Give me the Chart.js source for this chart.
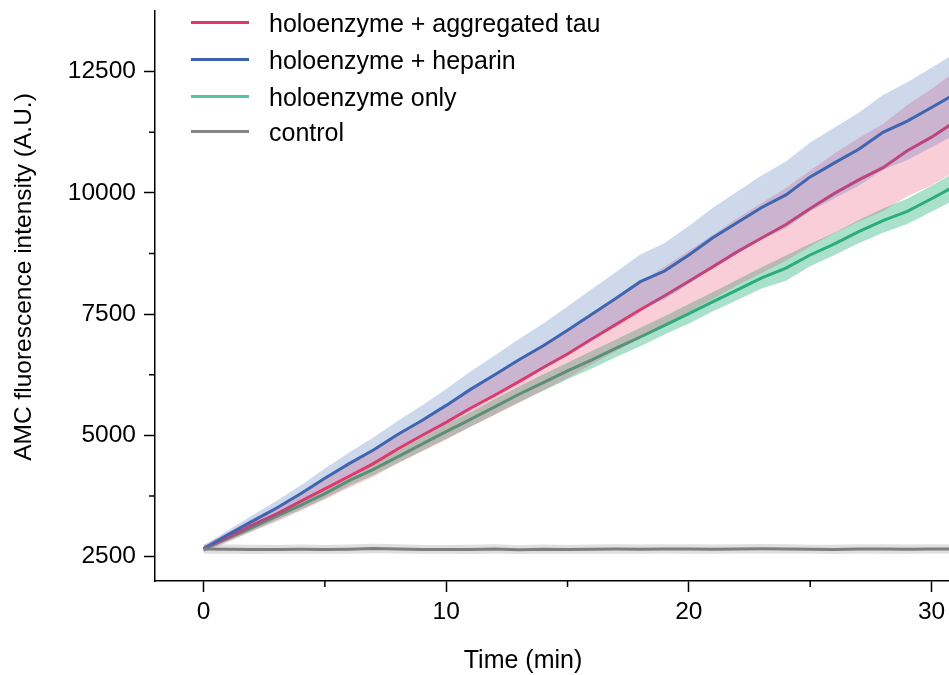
<!DOCTYPE html>
<html>
<head>
<meta charset="utf-8">
<title>AMC fluorescence</title>
<script src="https://cdn.jsdelivr.net/npm/chart.js@4.4.0/dist/chart.umd.min.js"></script>
<style>
  html, body { margin: 0; padding: 0; background: #fff; }
  #wrap { position: relative; width: 949px; height: 675px; overflow: hidden; }
  #legend { position: absolute; left: 191px; top: 0; font-family: "Liberation Sans", Arial, sans-serif; font-size: 25px; color: #000; }
  .item { position: absolute; left: 0; height: 0; white-space: nowrap; }
  .item .swatch { position: absolute; left: 0; top: -1.5px; width: 58px; height: 3px; }
  .item .label { position: absolute; left: 78px; top: 1px; transform: translateY(-50%); line-height: 1; }
</style>
</head>
<body>
<div id="wrap">
  <canvas id="chart" width="949" height="675"></canvas>
  <div id="legend"></div>
</div>
<script>
// time points (min)
const times = [0, 1, 2, 3, 4, 5, 6, 7, 8, 9, 10, 11, 12, 13, 14, 15, 16, 17, 18, 19, 20, 21, 22, 23, 24, 25, 26, 27, 28, 29, 30, 31];

// holoenzyme + aggregated tau
const tauMean = [2665, 2900, 3150, 3380, 3640, 3900, 4160, 4420, 4720, 5000, 5270, 5560, 5830, 6110, 6400, 6680, 6990, 7290, 7590, 7880, 8180, 8480, 8790, 9070, 9350, 9680, 9990, 10270, 10520, 10870, 11150, 11480];
const tauSd = [70, 100, 130, 160, 190, 220, 240, 270, 300, 330, 360, 380, 410, 440, 470, 500, 520, 550, 580, 600, 630, 660, 690, 720, 750, 780, 820, 860, 900, 940, 990, 1030];

// holoenzyme + heparin
const heparinMean = [2665, 2950, 3230, 3500, 3800, 4120, 4420, 4700, 5020, 5310, 5620, 5950, 6250, 6560, 6850, 7170, 7500, 7830, 8170, 8390, 8720, 9080, 9390, 9700, 9960, 10330, 10620, 10900, 11250, 11480, 11760, 12050];
const heparinSd = [60, 90, 120, 150, 170, 200, 230, 260, 280, 310, 340, 370, 400, 430, 460, 490, 520, 540, 560, 580, 600, 620, 640, 660, 690, 710, 730, 750, 770, 800, 820, 840];

// holoenzyme only
const onlyMean = [2665, 2880, 3100, 3330, 3560, 3800, 4070, 4300, 4560, 4820, 5080, 5330, 5590, 5850, 6090, 6330, 6560, 6800, 7030, 7270, 7510, 7760, 8000, 8250, 8450, 8720, 8950, 9200, 9430, 9620, 9880, 10150];
const onlySd = [50, 60, 70, 80, 90, 100, 110, 120, 130, 140, 150, 150, 160, 160, 170, 170, 180, 180, 190, 190, 200, 200, 210, 220, 260, 230, 230, 240, 250, 260, 270, 280];

// control
const controlMean = [2660, 2655, 2650, 2650, 2655, 2650, 2655, 2670, 2660, 2650, 2650, 2650, 2660, 2645, 2655, 2650, 2655, 2660, 2655, 2660, 2660, 2655, 2660, 2665, 2660, 2655, 2650, 2660, 2660, 2655, 2660, 2660];
const controlSd = [100, 95, 95, 90, 95, 90, 95, 100, 95, 90, 90, 95, 95, 90, 95, 90, 95, 100, 95, 95, 100, 95, 95, 100, 95, 90, 95, 95, 100, 95, 95, 95];

const seriesNames = ['holoenzyme + aggregated tau', 'holoenzyme + heparin', 'holoenzyme only', 'control'];
const lineColors = ['#e8336a', '#3a62b0', '#55c4a0', '#858585'];
const plotLineColors = ['#e8336a', '#3a62b0', '#2fa67b', '#7e7e7e'];
const bandColors = ['rgba(235, 60, 100, 0.25)', 'rgba(70, 110, 180, 0.27)', 'rgba(40, 180, 130, 0.4)', 'rgba(128, 128, 128, 0.25)'];

const xTicks = [0, 10, 20, 30];
const xMinor = [5, 15, 25];
const yTicks = [2500, 5000, 7500, 10000, 12500];
const yMinor = [3750, 6250, 8750, 11250];

const FONT = '"Liberation Sans", Arial, sans-serif';

function pts(vals) {
    return vals.map((v, i) => ({ x: times[i], y: v }));
}

// line + band (upper filled down to lower); higher order = drawn lower down
function series(idx, mean, sd, order) {
    return [
        {
            label: seriesNames[idx],
            data: pts(mean),
            borderColor: plotLineColors[idx],
            borderWidth: 3,
            pointRadius: 0,
            fill: false,
            order: order + 1
        },
        {
            label: '_band',
            data: pts(mean.map((v, i) => v + sd[i])),
            borderWidth: 0,
            pointRadius: 0,
            backgroundColor: bandColors[idx],
            fill: '+1',
            order: order
        },
        {
            label: '_band',
            data: pts(mean.map((v, i) => v - sd[i])),
            borderWidth: 0,
            pointRadius: 0,
            fill: false,
            order: order
        }
    ];
}

const datasets = [
    ...series(2, onlyMean, onlySd, 7),
    ...series(0, tauMean, tauSd, 5),
    ...series(1, heparinMean, heparinSd, 3),
    ...series(3, controlMean, controlSd, 1)
];

// minor ticks and axis titles
const extras = {
    id: 'extras',
    afterDraw(chart) {
        const { ctx, chartArea, scales } = chart;
        ctx.save();
        ctx.strokeStyle = '#000';
        ctx.lineWidth = 1.5;
        ctx.beginPath();
        xMinor.forEach(v => {
            const px = scales.x.getPixelForValue(v);
            ctx.moveTo(px, chartArea.bottom);
            ctx.lineTo(px, chartArea.bottom + 6);
        });
        yMinor.forEach(v => {
            const py = scales.y.getPixelForValue(v);
            ctx.moveTo(chartArea.left, py);
            ctx.lineTo(chartArea.left - 6, py);
        });
        ctx.stroke();

        ctx.fillStyle = '#000';
        ctx.font = '25px ' + FONT;
        ctx.textAlign = 'center';
        ctx.textBaseline = 'alphabetic';
        ctx.fillText('Time (min)', 523, 668);
        ctx.translate(31, 277);
        ctx.rotate(-Math.PI / 2);
        ctx.font = '24.5px ' + FONT;
        ctx.fillText('AMC fluorescence intensity (A.U.)', 0, 0);
        ctx.restore();
    }
};

const axisCommon = {
    type: 'linear',
    grid: { drawOnChartArea: false, drawTicks: true, tickLength: 11, tickWidth: 1.5, tickColor: '#000' },
    border: { display: true, color: '#000', width: 1.5 }
};

new Chart(document.getElementById('chart'), {
    type: 'line',
    data: { datasets: datasets },
    plugins: [extras],
    options: {
        responsive: false,
        animation: false,
        layout: { padding: { top: 11, left: 0, right: 0, bottom: 0 } },
        elements: { line: { tension: 0 } },
        plugins: {
            legend: { display: false },
            tooltip: { enabled: false }
        },
        scales: {
            x: {
                ...axisCommon,
                min: -2,
                max: 30.72,
                afterBuildTicks: s => { s.ticks = xTicks.map(v => ({ value: v })); },
                afterFit: s => { s.height = 94; s.paddingLeft = 0; s.paddingRight = 0; },
                ticks: { color: '#000', font: { family: FONT, size: 24.5 }, padding: 6, maxRotation: 0, callback: v => String(v) }
            },
            y: {
                ...axisCommon,
                min: 2000,
                max: 13750,
                afterBuildTicks: s => { s.ticks = yTicks.map(v => ({ value: v })); },
                afterFit: s => { s.width = 155; s.paddingTop = 0; s.paddingBottom = 0; },
                ticks: { color: '#000', font: { family: FONT, size: 24.5 }, padding: 8, callback: v => String(v) }
            }
        }
    }
});

// legend
const legendRows = [22, 59, 96, 131];
const legendEl = document.getElementById('legend');
seriesNames.forEach((name, i) => {
    const item = document.createElement('div');
    item.className = 'item';
    item.style.top = legendRows[i] + 'px';
    item.innerHTML = `<span class="swatch" style="background:${lineColors[i]}"></span><span class="label">${name}</span>`;
    legendEl.appendChild(item);
});
</script>
</body>
</html>
